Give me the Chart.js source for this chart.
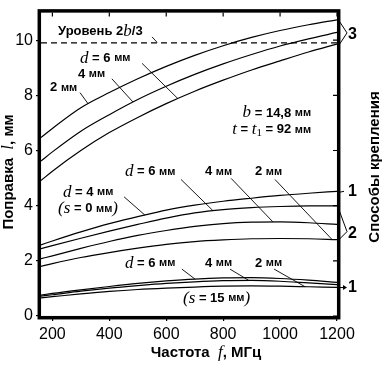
<!DOCTYPE html>
<html>
<head>
<meta charset="utf-8">
<script src="https://cdn.jsdelivr.net/npm/chart.js@4"></script>
<style>
  html, body { margin: 0; padding: 0; background: #fff; }
  canvas { display: block; }
</style>
</head>
<body>
<canvas id="chart" width="384" height="366"></canvas>
<script>
// Frequency grid, MHz
const freqs = [160, 200, 300, 400, 500, 600, 700, 800, 900, 1000, 1100, 1200];
const xTicks = [200, 400, 600, 800, 1000, 1200];
const yTicks = [0, 2, 4, 6, 8, 10];
const levelValue = 9.9; // level 2b/3

// Mount type 3, d = 2 / 4 / 6 mm
const m3d2 = [6.47, 6.8, 7.55, 8.1, 8.6, 9.05, 9.45, 9.8, 10.1, 10.35, 10.56, 10.74];
const m3d4 = [5.62, 5.95, 6.7, 7.3, 7.85, 8.33, 8.76, 9.14, 9.48, 9.79, 10.05, 10.28];
const m3d6 = [4.91, 5.25, 6.0, 6.65, 7.2, 7.7, 8.15, 8.55, 8.92, 9.25, 9.57, 9.86];

// Mount type 1, d = 4 mm, s = 0 mm
const m1s0 = [2.58, 2.72, 3.05, 3.35, 3.6, 3.84, 4.02, 4.16, 4.27, 4.37, 4.45, 4.52];

// Mount type 2, d = 6 / 4 / 2 mm
const m2d6 = [2.44, 2.55, 2.82, 3.08, 3.32, 3.55, 3.74, 3.86, 3.93, 3.97, 3.99, 3.99];
const m2d4 = [2.08, 2.18, 2.45, 2.7, 2.92, 3.1, 3.25, 3.35, 3.4, 3.41, 3.38, 3.32];
const m2d2 = [1.8, 1.9, 2.12, 2.3, 2.46, 2.6, 2.7, 2.76, 2.8, 2.81, 2.8, 2.77];

// Mount type 1, s = 15 mm, d = 6 / 4 / 2 mm
const m1d6 = [0.76, 0.82, 0.95, 1.07, 1.18, 1.27, 1.34, 1.38, 1.39, 1.36, 1.3, 1.22];
const m1d4 = [0.72, 0.77, 0.9, 1.01, 1.1, 1.18, 1.24, 1.28, 1.29, 1.26, 1.2, 1.14];
const m1d2 = [0.66, 0.7, 0.8, 0.89, 0.96, 1.01, 1.05, 1.08, 1.09, 1.08, 1.06, 1.04];

const allSeries = [m3d2, m3d4, m3d6, m1s0, m2d6, m2d4, m2d2, m1d6, m1d4, m1d2];

const SANS = '"Liberation Sans", Arial, sans-serif';
const SERIF = '"Liberation Serif", "Times New Roman", serif';
const fTxt = 'bold 13px ' + SANS;
const fMm = 'bold 11px ' + SANS;
const fIt = 'italic 17px ' + SERIF;
const fSub = '11px ' + SERIF;
const fTitle = 'bold 15px ' + SANS;

// Labels inside plot, anchored in data units [f, l]
const labels = [
    { at: [220, 10.33], parts: [['Уровень 2', fTxt], ['b', fIt], ['/3', fTxt]] },
    { at: [297, 9.34], parts: [['d', fIt], [' = 6 ', fTxt], ['мм', fMm]] },
    { at: [290, 8.77], parts: [['4 ', fTxt], ['мм', fMm]] },
    { at: [192, 8.28], parts: [['2 ', fTxt], ['мм', fMm]] },
    { at: [1109, 7.36], align: 'right', parts: [['b', fIt], [' = 14,8 ', fTxt], ['мм', fMm]] },
    { at: [1109, 6.76], align: 'right', parts: [['t', fIt], [' = ', fTxt], ['t', fIt], ['1', fSub, 4], [' = 92 ', fTxt], ['мм', fMm]] },
    { at: [455, 5.24], parts: [['d', fIt], [' = 6 ', fTxt], ['мм', fMm]] },
    { at: [736, 5.24], parts: [['4 ', fTxt], ['мм', fMm]] },
    { at: [912, 5.24], parts: [['2 ', fTxt], ['мм', fMm]] },
    { at: [237, 4.49], parts: [['d', fIt], [' = 4 ', fTxt], ['мм', fMm]] },
    { at: [220, 3.89], parts: [['(', fIt], ['s', fIt], [' = 0 ', fTxt], ['мм', fMm], [')', fIt]] },
    { at: [455, 1.91], parts: [['d', fIt], [' = 6 ', fTxt], ['мм', fMm]] },
    { at: [736, 1.91], parts: [['4 ', fTxt], ['мм', fMm]] },
    { at: [912, 1.91], parts: [['2 ', fTxt], ['мм', fMm]] },
    { at: [659, 0.64], parts: [['(', fIt], ['s', fIt], [' = 15 ', fTxt], ['мм', fMm], [')', fIt]] }
];

// Leader lines [f1, l1, f2, l2]
const leaders = [
    [550, 10.12, 568, 9.92],
    [515, 9.16, 641, 7.88],
    [409, 8.6, 483, 7.76],
    [297, 8.1, 325, 7.7],
    [652, 4.95, 764, 3.82],
    [828, 4.99, 975, 3.41],
    [982, 4.95, 1182, 2.78],
    [452, 4.32, 525, 3.66],
    [655, 1.7, 701, 1.34],
    [824, 1.7, 890, 1.29],
    [979, 1.7, 1088, 1.06]
];

function drawRich(ctx, parts, x, y, align) {
    let w = 0;
    parts.forEach(p => { ctx.font = p[1]; w += ctx.measureText(p[0]).width; });
    let cx = align === 'right' ? x - w : align === 'center' ? x - w / 2 : x;
    ctx.textAlign = 'left';
    ctx.textBaseline = 'middle';
    parts.forEach(p => {
        ctx.font = p[1];
        ctx.fillText(p[0], cx, y + (p[2] || 0));
        cx += ctx.measureText(p[0]).width;
    });
}

const decor = {
    id: 'decor',
    afterDraw(chart) {
        const ctx = chart.ctx;
        const ca = chart.chartArea;
        const xs = chart.scales.x, ys = chart.scales.y;
        const px = f => xs.getPixelForValue(f);
        const py = v => ys.getPixelForValue(v);
        ctx.save();
        ctx.strokeStyle = '#000';
        ctx.fillStyle = '#000';

        // frame
        ctx.lineWidth = 3.5;
        ctx.strokeRect(ca.left - 1.7, ca.top - 1.7, ca.right - ca.left + 3.4, ca.bottom - ca.top + 3.4);

        // inner ticks on top and right
        ctx.lineWidth = 1.2;
        ctx.beginPath();
        xTicks.forEach(t => { ctx.moveTo(px(t), ca.top); ctx.lineTo(px(t), ca.top + 4); });
        yTicks.forEach(t => { ctx.moveTo(ca.right, py(t)); ctx.lineTo(ca.right - 4, py(t)); });
        ctx.stroke();

        // leaders
        ctx.lineWidth = 0.9;
        ctx.beginPath();
        leaders.forEach(l => { ctx.moveTo(px(l[0]), py(l[1])); ctx.lineTo(px(l[2]), py(l[3])); });
        ctx.stroke();

        // labels
        labels.forEach(l => drawRich(ctx, l.parts, px(l.at[0]), py(l.at[1]), l.align));

        // mount type marks on the right
        const r = ca.right + 2;
        const last = s => s[s.length - 1];
        ctx.lineWidth = 1;
        ctx.beginPath();
        // 3
        let ay = (py(last(m3d2)) + py(last(m3d6))) / 2 + 1;
        ctx.moveTo(r, py(last(m3d2)) + 1); ctx.lineTo(r + 8, ay); ctx.lineTo(r, py(last(m3d6)) + 1);
        // 1 (s = 0)
        ctx.moveTo(r, py(last(m1s0)) + 1); ctx.lineTo(r + 5, py(last(m1s0)));
        // 2
        let by = py(last(m2d2)) - 8;
        ctx.moveTo(r, py(last(m2d6)) + 4); ctx.lineTo(r + 8, by); ctx.lineTo(r, py(last(m2d2)));
        // 1 (s = 15)
        let cy = py(last(m1d4)) + 3;
        ctx.moveTo(r, cy); ctx.lineTo(r + 6, cy);
        ctx.stroke();
        ctx.beginPath();
        ctx.moveTo(r + 8, cy); ctx.lineTo(r + 4, cy - 2.5); ctx.lineTo(r + 4, cy + 2.5); ctx.closePath();
        ctx.fill();

        ctx.font = 'bold 16px ' + SANS;
        ctx.textAlign = 'left';
        ctx.textBaseline = 'middle';
        ctx.fillText('3', r + 9, ay + 2);
        ctx.fillText('1', r + 9, py(last(m1s0)));
        ctx.fillText('2', r + 9, by + 2);
        ctx.fillText('1', r + 9, cy);

        // axis titles
        drawRich(ctx, [['Частота  ', fTitle], ['f', fIt], [', МГц', fTitle]], 206, 353, 'center');

        ctx.save();
        ctx.translate(9, 172);
        ctx.rotate(-Math.PI / 2);
        drawRich(ctx, [['Поправка  ', fTitle], ['l', fIt], [', мм', fTitle]], 0, 0, 'center');
        ctx.restore();

        ctx.save();
        ctx.translate(375, 167);
        ctx.rotate(-Math.PI / 2);
        drawRich(ctx, [['Способы крепления', fTitle]], 0, 0, 'center');
        ctx.restore();

        ctx.restore();
    }
};

const datasets = allSeries.map(s => ({
    data: freqs.map((f, i) => ({ x: f, y: s[i] })),
    borderColor: '#000',
    borderWidth: 1.2,
    pointRadius: 0,
    cubicInterpolationMode: 'monotone',
    fill: false
}));

datasets.push({
    data: [{ x: freqs[0], y: levelValue }, { x: freqs[freqs.length - 1], y: levelValue }],
    borderColor: '#000',
    borderWidth: 1.2,
    borderDash: [6, 4],
    pointRadius: 0,
    fill: false
});

new Chart(document.getElementById('chart'), {
    type: 'line',
    data: { datasets: datasets },
    options: {
        responsive: false,
        animation: false,
        layout: { padding: { top: 5, right: 47, left: 0, bottom: 0 } },
        plugins: { legend: { display: false }, tooltip: { enabled: false } },
        scales: {
            x: {
                type: 'linear',
                min: 160,
                max: 1200,
                afterBuildTicks: ax => { ax.ticks = xTicks.map(v => ({ value: v })); },
                afterFit: ax => { ax.height = 50; },
                grid: { drawOnChartArea: false, tickLength: 5, color: '#000', lineWidth: 1.2 },
                border: { display: false },
                ticks: { color: '#000', font: { family: SANS, size: 16 }, padding: 4, maxRotation: 0, callback: v => String(v) }
            },
            y: {
                min: 0,
                max: 11,
                afterBuildTicks: ax => { ax.ticks = yTicks.map(v => ({ value: v })); },
                afterFit: ax => { ax.width = 41; },
                grid: { drawOnChartArea: false, tickLength: 5, color: '#000', lineWidth: 1.2 },
                border: { display: false },
                ticks: { color: '#000', font: { family: SANS, size: 16 }, padding: 3, callback: v => String(v) }
            }
        }
    },
    plugins: [decor]
});
</script>
</body>
</html>
